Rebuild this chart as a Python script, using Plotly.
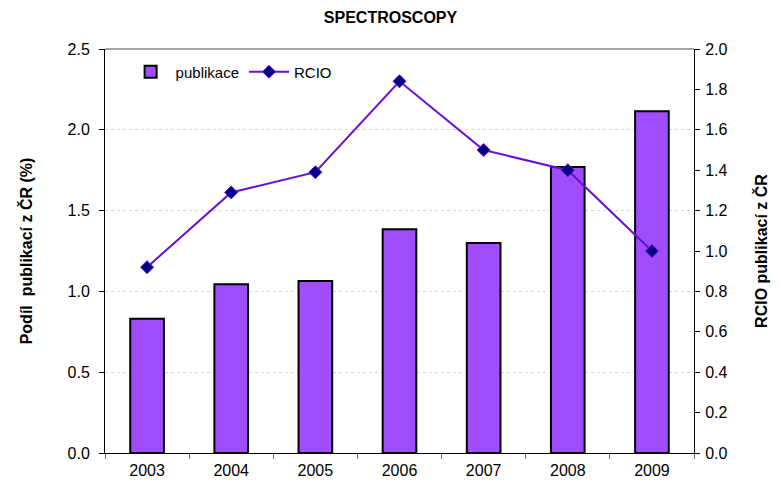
import plotly.graph_objects as go

years = ["2003", "2004", "2005", "2006", "2007", "2008", "2009"]
publikace = [0.83, 1.045, 1.065, 1.385, 1.30, 1.77, 2.115]
rcio = [0.92, 1.29, 1.39, 1.84, 1.50, 1.40, 1.00]

font_family = "Liberation Sans, Arial, sans-serif"

fig = go.Figure()
fig.add_trace(go.Bar(
    x=years, y=publikace, name="publikace",
    marker=dict(color="#A04CFF", line=dict(color="black", width=2)),
    width=0.4, yaxis="y"
))
fig.add_trace(go.Scatter(
    x=years, y=rcio, name="RCIO", mode="lines+markers",
    line=dict(color="#6A0DD6", width=2),
    marker=dict(symbol="diamond", size=10, color="#000080",
                line=dict(color="#6A0DD6", width=1)),
    yaxis="y2"
))

fig.update_layout(
    width=781, height=480,
    margin=dict(l=105, r=87, t=49, b=27, autoexpand=False),
    paper_bgcolor="white", plot_bgcolor="white",
    font=dict(family=font_family, size=16, color="black"),
    title=dict(text="<b>SPECTROSCOPY</b>", x=0.5, xanchor="center", y=0.963,
               yanchor="middle", font=dict(size=16)),
    showlegend=True,
    legend=dict(orientation="h", x=0.035, y=0.943, xanchor="left", yanchor="middle",
                bgcolor="rgba(0,0,0,0)", font=dict(size=15), itemwidth=40),
    bargap=0.6,
    xaxis=dict(
        type="category", showline=True, linecolor="black", linewidth=1,
        ticks="outside", tickson="boundaries", ticklen=5, tickcolor="#666666",
        showgrid=False, tickfont=dict(size=16), ticklabelstandoff=3,
        automargin=False,
    ),
    yaxis=dict(
        range=[0, 2.5], dtick=0.5, tickformat=".1f",
        showline=True, linecolor="black", linewidth=1,
        ticks="outside", ticklen=5, tickcolor="black",
        showgrid=True, gridcolor="#d5d5d5", griddash="dot", gridwidth=1,
        zeroline=False, tickfont=dict(size=16), ticklabelstandoff=6,
        automargin=False,
        title=dict(text="<b>Podíl  publikací z ČR (%)</b>", font=dict(size=16), standoff=30),
    ),
    yaxis2=dict(
        range=[0, 2.0], dtick=0.2, tickformat=".1f", overlaying="y", side="right",
        showline=True, linecolor="black", linewidth=1,
        ticks="outside", ticklen=5, tickcolor="black",
        showgrid=False, zeroline=False, tickfont=dict(size=16), ticklabelstandoff=2,
        automargin=False,
        title=dict(text="<b>RCIO publikací z ČR</b>", font=dict(size=16), standoff=29),
    ),
    shapes=[dict(type="line", xref="paper", yref="paper", x0=0, x1=1, y0=1, y1=1,
                 line=dict(color="#888888", width=1.5))],
)

fig.write_html(
    "out.html",
    config={"displayModeBar": False},
    post_script="document.body.style.margin='0';document.body.style.overflow='hidden';",
)
